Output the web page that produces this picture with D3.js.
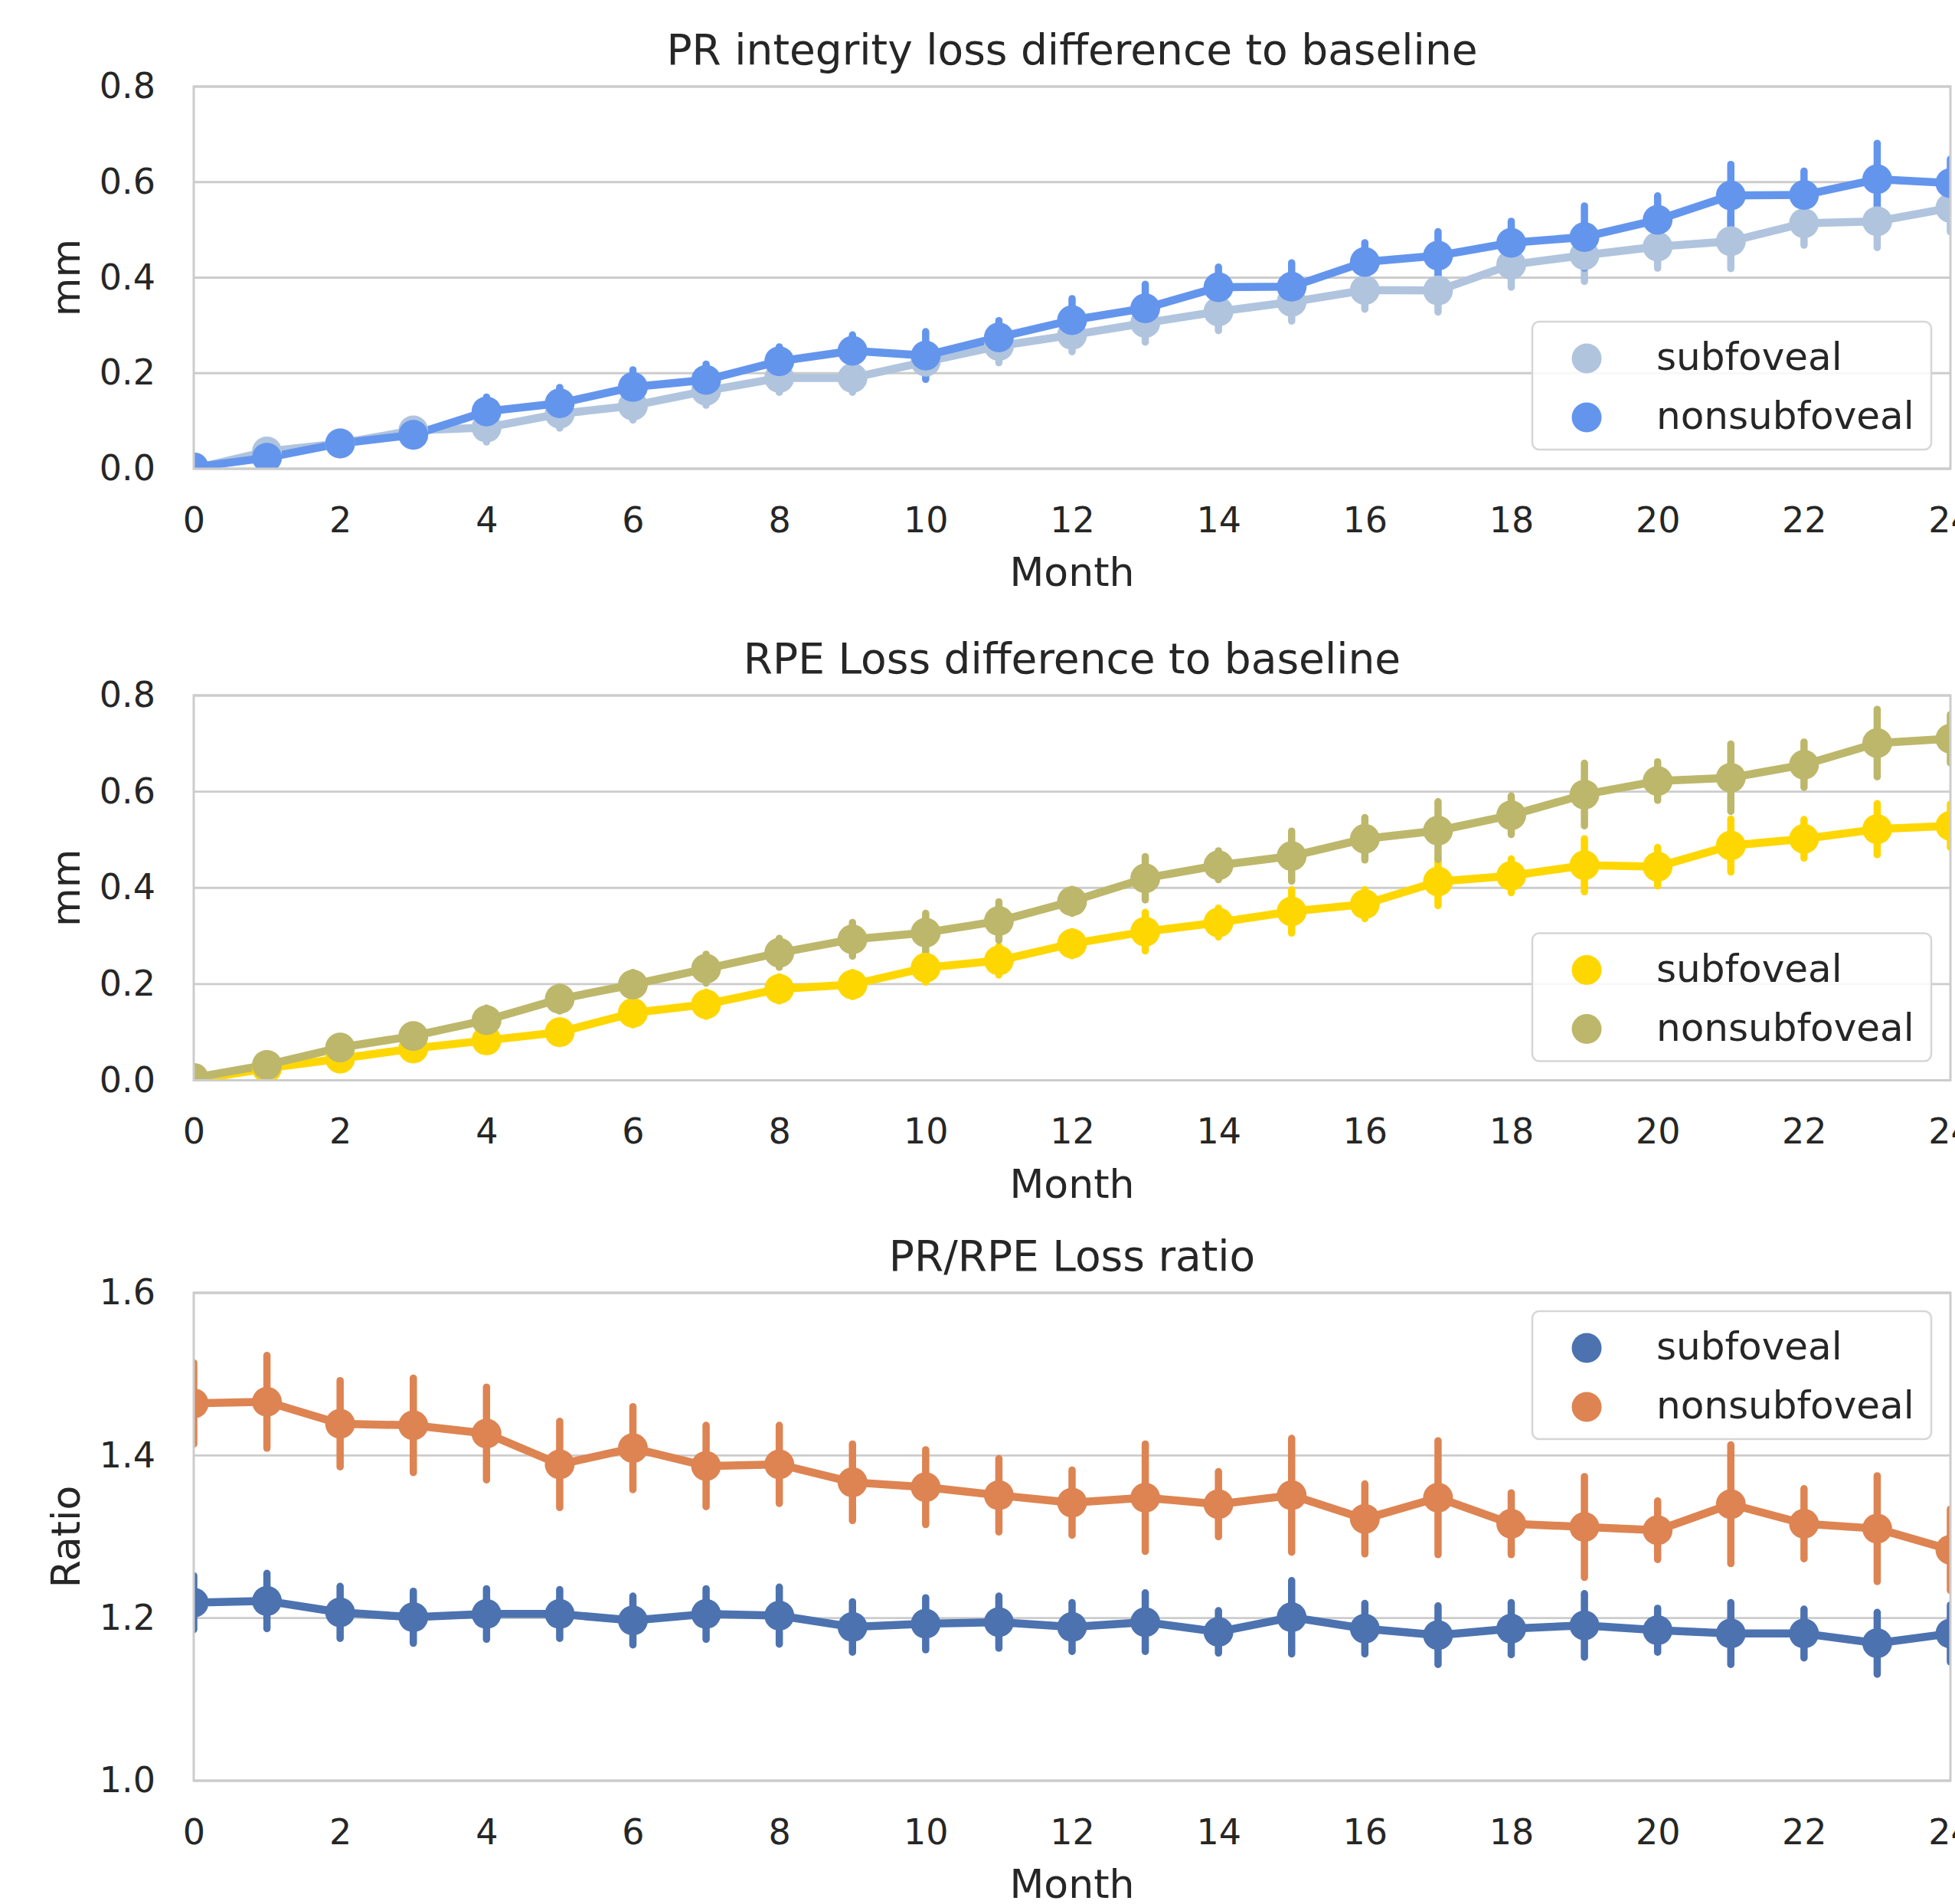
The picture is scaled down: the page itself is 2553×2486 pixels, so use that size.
<!DOCTYPE html>
<html><head><meta charset="utf-8">
<script src="https://cdn.jsdelivr.net/npm/d3@7/dist/d3.min.js"></script>
<style>
body{margin:0;background:#fff;}
text{font-family:"DejaVu Sans",sans-serif;fill:#262626;}
</style>
</head><body>
<svg id="chart" width="2553" height="2486"></svg>
<script>
// ---------------- data ----------------
const months = [0,1,2,3,4,5,6,7,8,9,10,11,12,13,14,15,16,17,18,19,20,21,22,23,24];
const xTicks = [0,2,4,6,8,10,12,14,16,18,20,22,24];
const seriesNames = ["subfoveal","nonsubfoveal"];

const titles = ["PR integrity loss difference to baseline","RPE Loss difference to baseline","PR/RPE Loss ratio"];
const yLabels = ["mm","mm","Ratio"];
const yTicksMM = [0.0,0.2,0.4,0.6,0.8];
const yTicksRatio = [1.0,1.2,1.4,1.6];

// PR integrity loss
const prSub    = [0.0,0.036,0.053,0.08,0.086,0.115,0.132,0.163,0.19,0.19,0.224,0.257,0.28,0.305,0.329,0.349,0.374,0.373,0.427,0.447,0.465,0.476,0.514,0.518,0.546];
const prSubCI  = [0.01,0.02,0.02,0.02,0.03,0.03,0.03,0.03,0.03,0.03,0.03,0.035,0.035,0.04,0.04,0.04,0.04,0.045,0.047,0.055,0.045,0.057,0.046,0.055,0.05];
const prNon    = [0.003,0.023,0.053,0.071,0.12,0.137,0.171,0.186,0.225,0.247,0.237,0.275,0.311,0.336,0.38,0.381,0.433,0.446,0.473,0.485,0.521,0.572,0.573,0.606,0.598];
const prNonCI  = [0.01,0.02,0.02,0.02,0.03,0.033,0.036,0.033,0.03,0.033,0.05,0.035,0.045,0.05,0.042,0.05,0.04,0.05,0.045,0.065,0.05,0.065,0.05,0.075,0.05];

// RPE loss
const rpeSub   = [0.0,0.025,0.045,0.066,0.083,0.10,0.14,0.158,0.19,0.199,0.234,0.249,0.284,0.309,0.328,0.351,0.366,0.413,0.425,0.447,0.444,0.488,0.502,0.522,0.529];
const rpeSubCI = [0.01,0.015,0.015,0.02,0.02,0.02,0.025,0.025,0.025,0.025,0.03,0.03,0.025,0.04,0.03,0.045,0.03,0.05,0.035,0.055,0.04,0.055,0.04,0.053,0.045];
const rpeNon   = [0.005,0.032,0.068,0.092,0.125,0.169,0.199,0.232,0.265,0.293,0.307,0.331,0.372,0.42,0.447,0.466,0.502,0.519,0.551,0.594,0.622,0.629,0.656,0.701,0.71];
const rpeNonCI = [0.01,0.015,0.02,0.02,0.025,0.025,0.025,0.03,0.03,0.035,0.04,0.04,0.025,0.045,0.03,0.052,0.044,0.06,0.04,0.065,0.04,0.07,0.047,0.07,0.05];

// PR/RPE ratio
const ratioSub   = [1.219,1.221,1.207,1.201,1.205,1.205,1.197,1.205,1.203,1.189,1.193,1.195,1.189,1.195,1.183,1.201,1.187,1.179,1.187,1.191,1.185,1.181,1.181,1.169,1.181];
const ratioSubCI = [0.033,0.034,0.032,0.032,0.031,0.03,0.03,0.031,0.035,0.031,0.032,0.032,0.03,0.036,0.026,0.045,0.031,0.036,0.032,0.039,0.027,0.038,0.03,0.038,0.035];
const ratioNon   = [1.464,1.466,1.439,1.437,1.427,1.389,1.409,1.387,1.389,1.367,1.361,1.351,1.342,1.348,1.340,1.351,1.322,1.348,1.316,1.312,1.308,1.340,1.316,1.310,1.284];
const ratioNonCI = [0.05,0.057,0.053,0.058,0.057,0.053,0.051,0.05,0.048,0.047,0.046,0.045,0.04,0.066,0.04,0.07,0.043,0.07,0.038,0.062,0.036,0.073,0.043,0.065,0.05];

const colorsPR = ["#b0c4de","#6495ed"];
const colorsRPE = ["#ffd700","#bdb76b"];
const colorsRatio = ["#4c72b0","#dd8452"];

// ---------------- layout ----------------
const svg = d3.select("#chart");
const plotLeft = 253, plotRight = 2547;
const x = d3.scaleLinear().domain([0,24]).range([plotLeft, plotRight]);

const panels = [
  {title:titles[0], ylabel:yLabels[0], yDomain:[0,0.8], yTicks:yTicksMM, top:113, bottom:612,
   series:[[prSub,prSubCI],[prNon,prNonCI]], colors:colorsPR, legendPos:"lower"},
  {title:titles[1], ylabel:yLabels[1], yDomain:[0,0.8], yTicks:yTicksMM, top:908, bottom:1410.5,
   series:[[rpeSub,rpeSubCI],[rpeNon,rpeNonCI]], colors:colorsRPE, legendPos:"lower"},
  {title:titles[2], ylabel:yLabels[2], yDomain:[1.0,1.6], yTicks:yTicksRatio, top:1688, bottom:2325,
   series:[[ratioSub,ratioSubCI],[ratioNon,ratioNonCI]], colors:colorsRatio, legendPos:"upper"}
];

const gridColor = "#cccccc";
const lineW = 10.5, errW = 9.5, markerR = 19.5;
const tickFont = 46, labelFont = 52, titleFont = 55, legendFont = 50;

panels.forEach((p, pi) => {
  const y = d3.scaleLinear().domain(p.yDomain).range([p.bottom, p.top]);
  const g = svg.append("g");

  // gridlines
  g.selectAll("line.grid").data(p.yTicks).join("line")
    .attr("x1", plotLeft).attr("x2", plotRight)
    .attr("y1", d => y(d)).attr("y2", d => y(d))
    .attr("stroke", gridColor).attr("stroke-width", 2.8);

  // axes
  const ya = g.append("g").attr("transform", `translate(${plotLeft},0)`)
    .call(d3.axisLeft(y).tickValues(p.yTicks).tickSize(0).tickPadding(50).tickFormat(d3.format(".1f")));
  ya.select(".domain").remove();
  ya.selectAll("text").attr("font-size", tickFont).attr("font-family", "DejaVu Sans").attr("fill", "#262626");

  const xa = g.append("g").attr("transform", `translate(0,${p.bottom})`)
    .call(d3.axisBottom(x).tickValues(xTicks).tickSize(0).tickPadding(50).tickFormat(d3.format("d")));
  xa.select(".domain").remove();
  xa.selectAll("text").attr("font-size", tickFont).attr("font-family", "DejaVu Sans").attr("fill", "#262626");

  // clip
  const clipId = "clip" + pi;
  svg.append("clipPath").attr("id", clipId).append("rect")
    .attr("x", plotLeft).attr("y", p.top).attr("width", plotRight - plotLeft).attr("height", p.bottom - p.top);

  const data = p.series.map(([vals, ci], si) => months.map((m, i) => ({m, v: vals[i], ci: ci[i], s: si})));
  const plot = g.append("g").attr("clip-path", `url(#${clipId})`);

  const line = d3.line().x(d => x(d.m)).y(d => y(d.v));
  data.forEach((sd, si) => {
    plot.append("path").datum(sd).attr("d", line)
      .attr("fill", "none").attr("stroke", p.colors[si]).attr("stroke-width", lineW)
      .attr("stroke-linejoin", "round");
    plot.selectAll(null).data(sd).join("line")
      .attr("x1", d => x(d.m)).attr("x2", d => x(d.m))
      .attr("y1", d => y(d.v - d.ci)).attr("y2", d => y(d.v + d.ci))
      .attr("stroke", p.colors[si]).attr("stroke-width", errW).attr("stroke-linecap", "round");
  });
  data.forEach((sd, si) => {
    plot.selectAll(null).data(sd).join("circle")
      .attr("cx", d => x(d.m)).attr("cy", d => y(d.v)).attr("r", markerR)
      .attr("fill", p.colors[si]);
  });

  // spines
  g.append("rect").attr("x", plotLeft).attr("y", p.top)
    .attr("width", plotRight - plotLeft).attr("height", p.bottom - p.top)
    .attr("fill", "none").attr("stroke", gridColor).attr("stroke-width", 3);

  // title
  g.append("text").attr("x", (plotLeft + plotRight) / 2).attr("y", p.top - 29)
    .attr("text-anchor", "middle").attr("font-size", titleFont).text(p.title);
  // x label
  g.append("text").attr("x", (plotLeft + plotRight) / 2).attr("y", p.bottom + 153)
    .attr("text-anchor", "middle").attr("font-size", labelFont).text("Month");
  // y label
  g.append("text").attr("transform", `translate(104,${(p.top + p.bottom) / 2}) rotate(-90)`)
    .attr("text-anchor", "middle").attr("font-size", labelFont).text(p.ylabel);

  // legend
  const lw = 521, lh = 167, lx = 2001;
  const ly = p.legendPos === "lower" ? p.bottom - 25 - lh : p.top + 24;
  const lg = g.append("g").attr("transform", `translate(${lx},${ly})`);
  lg.append("rect").attr("width", lw).attr("height", lh).attr("rx", 9)
    .attr("fill", "#ffffff").attr("fill-opacity", 0.85)
    .attr("stroke", "#d6d6d6").attr("stroke-width", 2.5);
  seriesNames.forEach((name, si) => {
    const cy = 48 + si * 77;
    lg.append("circle").attr("cx", 71).attr("cy", cy).attr("r", markerR).attr("fill", p.colors[si]);
    lg.append("text").attr("x", 162).attr("y", cy + 15).attr("font-size", legendFont).text(name);
  });
});
</script>
</body></html>
